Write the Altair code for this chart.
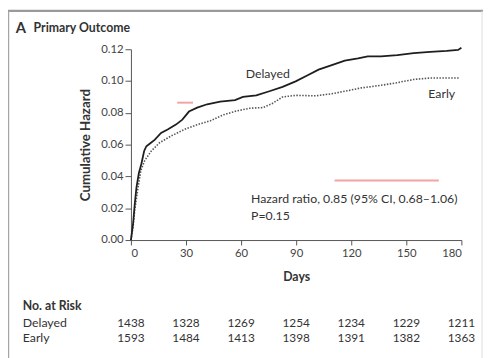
import altair as alt
import pandas as pd

# ---- data ----
delayed_days = [0, 1.2, 2.1, 3.0, 4.3, 5.7, 7.2, 8.4, 10.2, 12.9, 16.4, 20.0, 24.5, 28.0,
                31.6, 36.1, 41.5, 48.6, 56.7, 61.0, 68.3, 75.4, 82.6, 89.7, 96.0, 102.2,
                109.4, 116.5, 123.7, 129.0, 136.2, 145.1, 154.0, 163.0, 172.0, 178.2, 180.0]
delayed_haz = [0, 0.0107, 0.023, 0.033, 0.042, 0.048, 0.056, 0.059, 0.0606, 0.063, 0.0674,
               0.0695, 0.0726, 0.0757, 0.0808, 0.0833, 0.0854, 0.087, 0.088, 0.090, 0.091,
               0.0936, 0.0963, 0.0998, 0.1035, 0.1072, 0.110, 0.1128, 0.1142, 0.1155, 0.1155,
               0.1163, 0.1175, 0.1184, 0.119, 0.1196, 0.121]

early_days = [0, 1.2, 2.1, 3.6, 5.4, 7.5, 11.1, 15.6, 21.8, 29.0, 36.1, 43.3, 50.4, 57.6,
              64.7, 71.9, 77.2, 82.6, 89.7, 100.5, 109.4, 118.3, 125.5, 136.2, 145.1,
              154.0, 163.0, 178.9]
early_haz = [0, 0.0087, 0.019, 0.031, 0.0437, 0.050, 0.056, 0.0612, 0.0654, 0.0695, 0.0726,
             0.075, 0.0788, 0.0812, 0.0829, 0.0833, 0.086, 0.090, 0.091, 0.0907, 0.092,
             0.094, 0.0957, 0.0973, 0.099, 0.101, 0.1019, 0.1019]

x_ticks = [0, 30, 60, 90, 120, 150, 180]
y_ticks = [0.0, 0.02, 0.04, 0.06, 0.08, 0.10, 0.12]

risk_days = [0, 30, 60, 90, 120, 150, 180]
delayed_risk = [1438, 1328, 1269, 1254, 1234, 1229, 1211]
early_risk = [1593, 1484, 1413, 1398, 1391, 1382, 1363]

series_labels = ["Delayed", "Early"]
label_days = [74.5, 169.3]
label_haz = [0.1045, 0.0916]

hr_lines = ["Hazard ratio, 0.85 (95% CI, 0.68\u20131.06)", "P=0.15"]
hr_day = 65.4
hr_haz = [0.0258, 0.0153]

# faint pink marks visible in the reference
pink_x = [25.2, 110.9]
pink_x2 = [33.8, 167.7]
pink_y = [0.0864, 0.0375]

FONT = "Lato"
TXT = "#333333"

# ---- tables ----
df_del = pd.DataFrame({"day": delayed_days, "haz": delayed_haz})
df_early = pd.DataFrame({"day": early_days, "haz": early_haz})
df_lab = pd.DataFrame({"day": label_days, "haz": label_haz, "t": series_labels})
df_hr = pd.DataFrame({"day": [hr_day] * 2, "haz": hr_haz, "t": hr_lines})
df_pink = pd.DataFrame({"day": pink_x, "day2": pink_x2, "haz": pink_y})
df_risk_d = pd.DataFrame({"day": risk_days, "n": [str(v) for v in delayed_risk]})
df_risk_e = pd.DataFrame({"day": risk_days, "n": [str(v) for v in early_risk]})
df_one = pd.DataFrame({"a": [0]})

xs = alt.Scale(domain=[0, 180], nice=False, zero=False)
ys = alt.Scale(domain=[0, 0.12], nice=False)

x_axis = alt.Axis(values=x_ticks, title="Days", grid=False, tickSize=5, labelPadding=3,
                  titlePadding=12, titleFontWeight="bold", titleFontSize=12.5,
                  labelFontSize=11.5, titleColor=TXT, labelColor="#444444",
                  domainColor="#555555", tickColor="#555555", labelFont=FONT, titleFont=FONT)
y_axis = alt.Axis(values=y_ticks, format=".2f", title="Cumulative Hazard", grid=False,
                  tickSize=6, labelPadding=2, titlePadding=8, titleFontWeight="bold",
                  titleFontSize=13.5, labelFontSize=11.5, titleColor=TXT, labelColor="#444444",
                  domainColor="#555555", tickColor="#555555", labelFont=FONT, titleFont=FONT)

X = alt.X("day:Q", scale=xs, axis=x_axis)
Y = alt.Y("haz:Q", scale=ys, axis=y_axis)

delayed_line = alt.Chart(df_del).mark_line(
    interpolate="linear", color="#1e1e1e", strokeWidth=1.8
).encode(x=X, y=Y)

early_line = alt.Chart(df_early).mark_line(
    interpolate="linear", color="#555555", strokeWidth=1.6, strokeDash=[1.5, 1.5]
).encode(x=X, y=Y)

labels = alt.Chart(df_lab).mark_text(
    font=FONT, fontSize=12.5, color=TXT, align="center", baseline="middle"
).encode(x=X, y=Y, text="t:N")

hr = alt.Chart(df_hr).mark_text(
    font=FONT, fontSize=12.5, color=TXT, align="left", baseline="middle"
).encode(x=X, y=Y, text="t:N")

pink = alt.Chart(df_pink).mark_rule(color="#f4a3a3", strokeWidth=2).encode(
    x=X, x2="day2:Q", y=Y)

risk_d = alt.Chart(df_risk_d).mark_text(
    font=FONT, fontSize=12, color=TXT, align="center", baseline="middle"
).encode(x=X, y=alt.value(278), text="n:N")
risk_e = alt.Chart(df_risk_e).mark_text(
    font=FONT, fontSize=12, color=TXT, align="center", baseline="middle"
).encode(x=X, y=alt.value(294), text="n:N")

def fixed_text(txt, x, y, size=12, weight="normal", align="left"):
    return alt.Chart(df_one).mark_text(
        text=txt, font=FONT, fontSize=size, fontWeight=weight, color=TXT,
        align=align, baseline="middle"
    ).encode(x=alt.value(x), y=alt.value(y))

title_a = fixed_text("A", -117, -22, size=15, weight="bold")
title_t = fixed_text("Primary Outcome", -99, -22, size=12.5, weight="bold")
risk_head = fixed_text("No. at Risk", -110, 261, size=12.5, weight="bold")
risk_del = fixed_text("Delayed", -110, 278, size=12.5)
risk_ear = fixed_text("Early", -110, 294, size=12.5)

frame_top = alt.Chart(df_one).mark_rule(color="#9a9a9a", strokeWidth=2.5).encode(
    x=alt.value(-125), x2=alt.value(358), y=alt.value(-39))
frame_left = alt.Chart(df_one).mark_rule(color="#a5a5a5", strokeWidth=2.5).encode(
    x=alt.value(-125), y=alt.value(-39), y2=alt.value(320))
frame_right = alt.Chart(df_one).mark_rule(color="#dddddd", strokeWidth=1).encode(
    x=alt.value(357), y=alt.value(-39), y2=alt.value(320))

chart = alt.layer(
    frame_top, frame_left, frame_right,
    pink, early_line, delayed_line, labels, hr, risk_d, risk_e,
    title_a, title_t, risk_head, risk_del, risk_ear,
).properties(
    width=336, height=194,
    autosize=alt.AutoSizeParams(type="none"),
    padding={"left": 125, "top": 39, "right": 24, "bottom": 117},
    background="white",
).configure_view(stroke=None)

chart.save("out.html", embed_options={"renderer": "svg", "actions": False})
